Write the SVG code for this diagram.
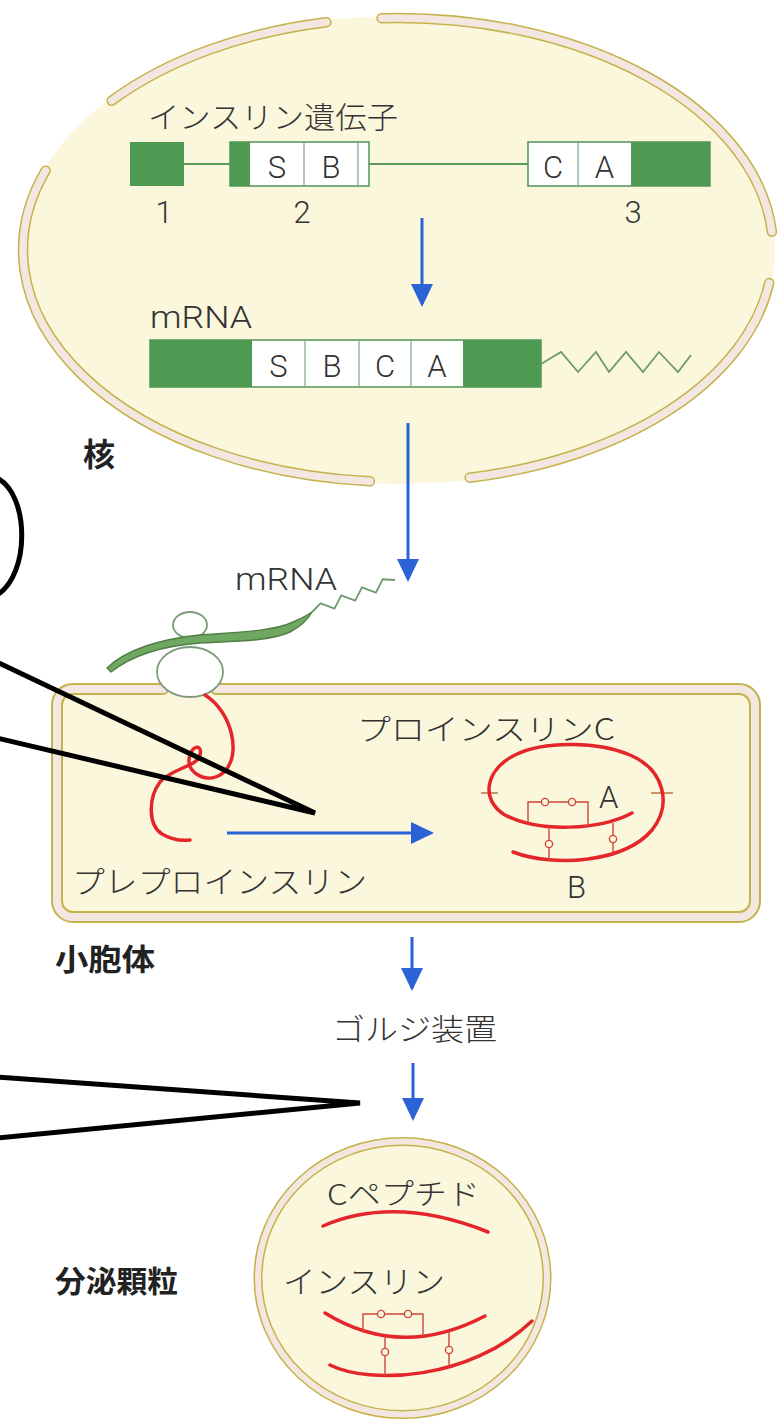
<svg xmlns="http://www.w3.org/2000/svg" width="782" height="1420" viewBox="0 0 782 1420">
  <style>
    .cream { fill: #fbf7dc; }
    .memO { fill: none; stroke: #c4b24a; stroke-width: 10.5; stroke-linecap: round; stroke-linejoin: round; }
    .memI { fill: none; stroke: #f4e7e2; stroke-width: 7.5; stroke-linecap: round; stroke-linejoin: round; }
    .gfill { fill: #4f9a52; }
    .gframe { fill: #ffffff; stroke: #5c9a5e; stroke-width: 1.6; }
    .sep { stroke: #7fa77f; stroke-width: 1.2; }
    .gline { stroke: #5c9a5e; stroke-width: 2; fill: none; }
    .zig { stroke: #6f9a6f; stroke-width: 1.8; fill: none; stroke-linejoin: miter; }
    .txt { font-family: Roboto, "Liberation Sans", "Noto Sans CJK JP", sans-serif; fill: #333333; font-weight: 300; }
    .jp { font-family: "Noto Sans CJK JP", "Liberation Sans", sans-serif; fill: #333333; font-weight: 300; }
    .lbl { font-family: "Noto Sans CJK JP", sans-serif; fill: #222222; font-weight: 700; }
    .chain { fill: none; stroke: #e3262a; stroke-width: 3.5; stroke-linecap: round; stroke-linejoin: round; }
    .ss { fill: none; stroke: #d0473a; stroke-width: 1.4; }
    .ssdot { fill: #fbf7dc; stroke: #d0473a; stroke-width: 1.4; }
    .tick { stroke: #c27a50; stroke-width: 1.6; }
    .flow { stroke: #2b62d6; stroke-width: 3; fill: none; }
    .ptr { stroke: #000000; stroke-width: 5; fill: none; stroke-linecap: round; stroke-linejoin: miter; }
    .ribo { fill: #ffffff; stroke: #7d9a7a; stroke-width: 1.8; }
  </style>
  <defs>
    <marker id="head" markerUnits="userSpaceOnUse" markerWidth="24" markerHeight="22" refX="20" refY="11" orient="auto">
      <path d="M0,0 L23,11 L0,22 Z" fill="#2b62d6"/>
    </marker>
    <!-- nuclear envelope segments -->
    <path id="nm1" d="M111.7,100.8 A375,232 0 0 1 326.4,22.2"/>
    <path id="nm2" d="M381.6,18.2 A375,232 0 0 1 771.9,231.8"/>
    <path id="nm3" d="M769.2,283.1 A375,232 0 0 1 469.6,477.7"/>
    <path id="nm4" d="M369.9,481.3 A375,232 0 0 1 45.6,170.7"/>
    <!-- ER membrane, open where the ribosome docks -->
    <path id="erm" d="M216,689 L739,689 A16,16 0 0 1 755,705 L755,901 A16,16 0 0 1 739,917 L73,917 A16,16 0 0 1 57,901 L57,705 A16,16 0 0 1 73,689 L163,689"/>
  </defs>

  <rect x="0" y="0" width="782" height="1420" fill="#ffffff"/>

  <!-- nucleus -->
  <g id="nucleus">
    <ellipse class="cream" cx="398" cy="250" rx="377" ry="234"/>
    <use href="#nm1" class="memO"/><use href="#nm1" class="memI"/>
    <use href="#nm2" class="memO"/><use href="#nm2" class="memI"/>
    <use href="#nm3" class="memO"/><use href="#nm3" class="memI"/>
    <use href="#nm4" class="memO"/><use href="#nm4" class="memI"/>
  </g>

  <!-- insulin gene: exons 1-3 with introns -->
  <g id="gene">
    <text class="jp" x="148" y="128" font-size="30" textLength="250" lengthAdjust="spacingAndGlyphs">インスリン遺伝子</text>
    <line class="gline" x1="184" y1="164" x2="230" y2="164"/>
    <line class="gline" x1="369" y1="164" x2="528" y2="164"/>
    <rect class="gfill" x="130" y="142" width="54" height="44"/>
    <rect class="gframe" x="230" y="142" width="139" height="44"/>
    <rect class="gfill" x="230" y="142" width="20" height="44"/>
    <line class="sep" x1="304" y1="143" x2="304" y2="185"/>
    <line class="sep" x1="358" y1="143" x2="358" y2="185"/>
    <rect class="gframe" x="528" y="142" width="182" height="44"/>
    <rect class="gfill" x="631" y="142" width="79" height="44"/>
    <line class="sep" x1="578" y1="143" x2="578" y2="185"/>
    <g class="txt" font-size="31" text-anchor="middle">
      <text x="277" y="178">S</text>
      <text x="331" y="178">B</text>
      <text x="553" y="178">C</text>
      <text x="604.5" y="178">A</text>
      <text x="164" y="223">1</text>
      <text x="302" y="223">2</text>
      <text x="633" y="223">3</text>
    </g>
  </g>

  <!-- mature mRNA in the nucleus -->
  <g id="mrna-nucleus">
    <text class="txt" x="150" y="328" font-size="31" textLength="102" lengthAdjust="spacingAndGlyphs">mRNA</text>
    <rect class="gframe" x="150" y="340" width="391" height="47"/>
    <rect class="gfill" x="150" y="340" width="102" height="47"/>
    <rect class="gfill" x="463" y="340" width="78" height="47"/>
    <line class="sep" x1="305" y1="341" x2="305" y2="386"/>
    <line class="sep" x1="359" y1="341" x2="359" y2="386"/>
    <line class="sep" x1="411" y1="341" x2="411" y2="386"/>
    <g class="txt" font-size="31" text-anchor="middle">
      <text x="278.5" y="377">S</text>
      <text x="332" y="377">B</text>
      <text x="385" y="377">C</text>
      <text x="437" y="377">A</text>
    </g>
    <polyline class="zig" points="541,364 561,352 578,372 596,352 609,372 626,352 643,372 659,352 678,372 691,355"/>
  </g>

  <text id="label-nucleus" class="lbl" x="83" y="466" font-size="32">核</text>

  <!-- ER with docked ribosome -->
  <g id="er">
    <rect class="cream" x="57" y="689" width="698" height="228" rx="16"/>
    <use href="#erm" class="memO" style="stroke-width:12"/>
    <use href="#erm" class="memI" style="stroke-width:8"/>
  </g>

  <g id="ribosome">
    <ellipse class="ribo" cx="190" cy="672" rx="33" ry="25"/>
    <ellipse class="ribo" cx="190" cy="625" rx="17" ry="13"/>
  </g>

  <g id="mrna-cytosol">
    <path d="M107,668 C125,650 160,639 200,635 C240,632 275,631 293,622 C302,618 308,615 312,612 C307,621 298,628 290,632 C270,641 240,641 200,643 C160,646 130,657 111,672 Z" fill="#6fa862" stroke="#4f7f44" stroke-width="1.4" stroke-linejoin="round"/>
    <polyline class="zig" points="312,612 320.6,603.3 334.5,608.7 341.3,595.3 355.2,600.7 362,587.3 375.9,592.7 382.7,579.3 395,580"/>
    <text class="txt" x="235" y="590" font-size="31" textLength="102" lengthAdjust="spacingAndGlyphs">mRNA</text>
  </g>

  <!-- preproinsulin emerging into the ER -->
  <g id="preproinsulin">
    <path class="chain" d="M205,695 C232,712 242,755 224,772 C210,785 188,775 189,760 C190,745 203,743 200,755 C197,767 172,768 160,782 C148,798 148,825 162,834 C172,840 182,841 190,840"/>
    <text class="jp" x="72" y="893" font-size="31" textLength="295" lengthAdjust="spacingAndGlyphs">プレプロインスリン</text>
  </g>

  <!-- proinsulin: B chain, C peptide loop, A chain -->
  <g id="proinsulin">
    <text class="jp" x="357" y="740" font-size="30" textLength="258" lengthAdjust="spacingAndGlyphs">プロインスリンC</text>
    <line class="tick" x1="481" y1="793" x2="498" y2="793"/>
    <line class="tick" x1="651" y1="793" x2="673" y2="793"/>
    <path class="chain" d="M513,852 C555,868 625,862 652,830 C672,805 665,770 630,755 C600,742 545,740 515,755 C485,770 480,800 505,815 C540,833 600,830 632,813"/>
    <polyline class="ss" points="528,823 528,802 588,802 588,826"/>
    <circle class="ssdot" cx="545" cy="802" r="3.6"/>
    <circle class="ssdot" cx="572" cy="802" r="3.6"/>
    <line class="ss" x1="549" y1="829" x2="549" y2="861"/>
    <line class="ss" x1="613" y1="823" x2="613" y2="856"/>
    <circle class="ssdot" cx="549" cy="844" r="3.6"/>
    <circle class="ssdot" cx="613" cy="839" r="3.6"/>
    <text class="txt" x="599" y="808" font-size="31">A</text>
    <text class="txt" x="567" y="898" font-size="31">B</text>
  </g>

  <text id="label-er" class="lbl" x="55" y="970" font-size="30" textLength="100" lengthAdjust="spacingAndGlyphs">小胞体</text>
  <text id="golgi" class="jp" x="332" y="1040" font-size="30" textLength="165" lengthAdjust="spacingAndGlyphs">ゴルジ装置</text>

  <!-- secretory granule -->
  <g id="granule">
    <ellipse class="cream" cx="402.5" cy="1278" rx="149" ry="141"/>
    <ellipse class="memO" cx="402.5" cy="1278" rx="144.5" ry="136.5" style="stroke-width:9"/>
    <ellipse class="memI" cx="402.5" cy="1278" rx="144.5" ry="136.5" style="stroke-width:6"/>
    <text class="jp" x="327" y="1205" font-size="29" textLength="153" lengthAdjust="spacingAndGlyphs">Cペプチド</text>
    <path class="chain" d="M323,1226 Q395,1195 488,1232"/>
    <text class="jp" x="283" y="1293" font-size="31" textLength="162" lengthAdjust="spacingAndGlyphs">インスリン</text>
    <path class="chain" d="M325,1313 Q401,1360 485,1316"/>
    <path class="chain" d="M330,1365 C370,1385 470,1380 532,1321"/>
    <polyline class="ss" points="363,1331 363,1314 423,1314 423,1336"/>
    <circle class="ssdot" cx="381" cy="1314" r="3.6"/>
    <circle class="ssdot" cx="408" cy="1314" r="3.6"/>
    <line class="ss" x1="385" y1="1335" x2="385" y2="1376"/>
    <line class="ss" x1="449" y1="1331" x2="449" y2="1367"/>
    <circle class="ssdot" cx="385" cy="1352" r="3.6"/>
    <circle class="ssdot" cx="449" cy="1350" r="3.6"/>
  </g>

  <text id="label-granule" class="lbl" x="55" y="1292" font-size="30" textLength="123" lengthAdjust="spacingAndGlyphs">分泌顆粒</text>

  <!-- connectors: flow arrows and pointer lines -->
  <g id="connectors">
    <line class="flow" x1="422" y1="218" x2="422" y2="304" marker-end="url(#head)"/>
    <line class="flow" x1="408" y1="423" x2="408" y2="579" marker-end="url(#head)"/>
    <line class="flow" x1="227" y1="833" x2="431" y2="833" marker-end="url(#head)"/>
    <line class="flow" x1="412" y1="937" x2="412" y2="988" marker-end="url(#head)"/>
    <line class="flow" x1="413" y1="1063" x2="413" y2="1118" marker-end="url(#head)"/>
    <path class="ptr" d="M-3,478 C30,495 30,575 -3,595"/>
    <path class="ptr" d="M-3,662 L315,813 L-3,738"/>
    <path class="ptr" d="M-3,1077 L360,1103 L-3,1138"/>
  </g>
</svg>
